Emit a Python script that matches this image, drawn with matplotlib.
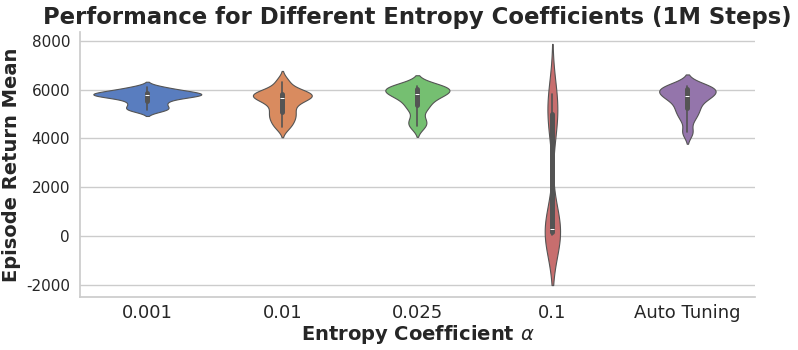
import numpy as np
import pandas as pd
import seaborn as sns
import matplotlib
matplotlib.use("Agg")
import matplotlib.pyplot as plt

# episode return means per entropy coefficient
coefs = ["0.001", "0.01", "0.025", "0.1", "Auto Tuning"]
ret_0001 = [5150, 5250, 5400, 5550, 5680, 5740, 5780, 5810, 5850, 5900, 5980, 6090]
ret_001 = [4480, 4750, 4950, 5150, 5400, 5600, 5700, 5760, 5800, 5850, 5950, 6330]
ret_0025 = [4500, 4750, 5200, 5400, 5650, 5750, 5850, 5920, 6030, 6080, 6120, 6150]
ret_01 = [55, 110, 140, 170, 230, 250, 290, 4400, 4900, 5250, 5500, 5800]
ret_auto = [4250, 4800, 5100, 5280, 5550, 5700, 5760, 5850, 5990, 6070, 6110, 6150]

all_runs = [ret_0001, ret_001, ret_0025, ret_01, ret_auto]
rows = []
for c, vals in zip(coefs, all_runs):
    for v in vals:
        rows.append({"coef": c, "ret": v})
df = pd.DataFrame(rows)

sns.set_theme(style="whitegrid")
plt.rcParams['font.family'] = ['DejaVu Sans']
plt.rcParams['axes.unicode_minus'] = False

fig, ax = plt.subplots(figsize=(7.98, 3.5), dpi=100)
sns.violinplot(data=df, x="coef", y="ret", hue="coef", order=coefs,
               palette="muted", legend=False, bw_method=0.4,
               common_norm=True, linewidth=0.8, ax=ax)
sns.despine(ax=ax)

ax.set_title("Performance for Different Entropy Coefficients (1M Steps)",
             fontsize=16.4, fontweight="bold")
ax.set_xlabel(r"Entropy Coefficient $\alpha$", fontsize=14, fontweight="bold", labelpad=1)
ax.set_ylabel("Episode Return Mean", fontsize=14, fontweight="bold", labelpad=4)
ax.set_yticks([-2000, 0, 2000, 4000, 6000, 8000])
ax.tick_params(axis="x", labelsize=13, length=0, pad=5)
ax.tick_params(axis="y", labelsize=11, length=0, pad=7)

fig.subplots_adjust(left=0.100, right=0.946, top=0.909, bottom=0.151)
fig.savefig("out.png", dpi=100)
